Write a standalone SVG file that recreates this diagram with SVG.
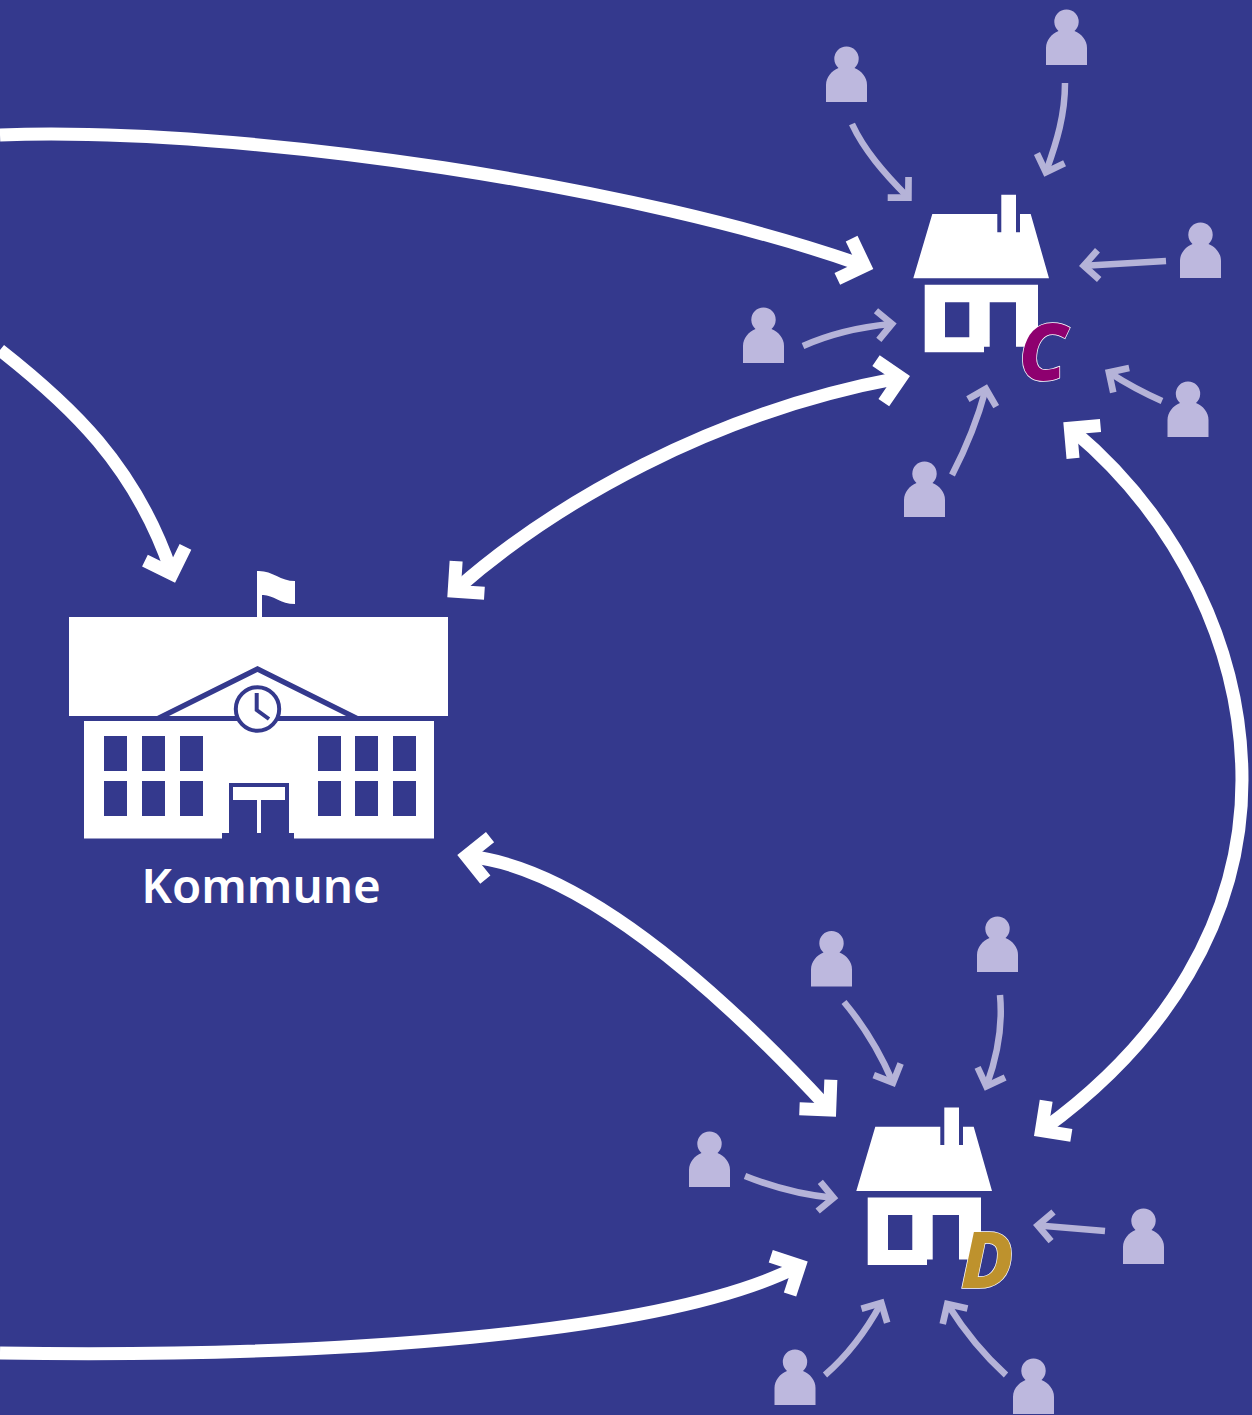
<svg xmlns="http://www.w3.org/2000/svg" xmlns:xlink="http://www.w3.org/1999/xlink" width="1252" height="1415" viewBox="0 0 1252 1415">
<style>
.w{fill:#fff}
.b{fill:#34398d}
.p{fill:#bdb8de}
.big{fill:none;stroke:#fff;stroke-width:13;marker-end:url(#hb)}
.dbl{marker-start:url(#hbs)}
.thin{fill:none;stroke:#b5b3d8;stroke-width:6.500;marker-end:url(#ht)}
.let{font-family:"Noto Sans","Open Sans",sans-serif;font-weight:800;font-style:italic;font-size:78px;stroke:#fff;stroke-width:1.400px;paint-order:stroke}
</style>
<defs>
<marker id="hb" markerUnits="userSpaceOnUse" markerWidth="60" markerHeight="60" refX="30" refY="30" viewBox="0 0 60 60" orient="auto" overflow="visible"><path transform="translate(30 30)" d="M12,0 L-14,-26 L-23.200,-16.800 L-6.400,0 L-23.200,16.800 L-14,26 Z" fill="#fff"/></marker>
<marker id="hbs" markerUnits="userSpaceOnUse" markerWidth="60" markerHeight="60" refX="30" refY="30" viewBox="0 0 60 60" orient="auto" overflow="visible"><path transform="translate(30 30)" d="M-12,0 L14,-26 L23.200,-16.800 L6.400,0 L23.200,16.800 L14,26 Z" fill="#fff"/></marker>
<marker id="ht" markerUnits="userSpaceOnUse" markerWidth="40" markerHeight="40" refX="20" refY="20" viewBox="0 0 40 40" orient="auto" overflow="visible"><path transform="translate(20 20)" d="M6,0 L-11,-17 L-15.700,-12.300 L-3.500,0 L-15.700,12.300 L-11,17 Z" fill="#b5b3d8"/></marker>
<path id="person" class="p" d="M-20.500,0 V-17 C-20.500,-25 -15,-31 -8,-34 A12.200,12.200 0 1 1 8,-34 C15,-31 20.500,-25 20.500,-17 V0 Z"/>
<g id="house">
<path class="w" d="M932.300,214 H997.300 V232.300 H1001.300 V194.700 H1016 V232.300 H1020 V214 H1030.700 L1049,278.300 H913.300 Z"/>
<path class="w" fill-rule="evenodd" d="M924.700,284.700 H1038 V346.700 H1016 V302.300 H989.700 V346.700 H984 V352.300 H924.700 Z M945,302.300 V337.300 H969.300 V302.300 Z"/>
</g>
</defs>
<rect id="background" class="b" width="1252" height="1415"/>
<g id="connectors">
<path class="big" d="M0,135 C250,126 645,188 862,265"/>
<path class="big" d="M0,350 C70,405 135,465 171.200,571.300"/>
<path class="big dbl" d="M456.300,589.400 C553.800,503.600 711.400,412.800 898.200,378.200"/>
<path class="big dbl" d="M1072.500,430 C1180,520 1242,650 1242,780 C1242,920 1165,1041 1043.700,1129"/>
<path class="big dbl" d="M469.200,856.300 C578.500,868.400 712,983 827.800,1107.900"/>
<path class="big" d="M0,1353 C330,1358 663,1334.500 797,1267"/>
<path class="thin" d="M852,124 C864,150 884,173 907.500,196.800"/>
<path class="thin" d="M1065,83 C1065,115 1057,141 1046.300,171"/>
<path class="thin" d="M1166,261 L1085,265.700"/>
<path class="thin" d="M1162,401 C1144,393 1127,384 1110,373"/>
<path class="thin" d="M952,475 C966,448 978,418 985.500,390"/>
<path class="thin" d="M803,346 C830,334 860,327 890.700,324"/>
<path class="thin" d="M844,1002 C865,1027 881,1055 892.500,1081.500"/>
<path class="thin" d="M1000,995 C1003,1027 997,1057 986.800,1085"/>
<path class="thin" d="M1105,1231 L1039,1225.500"/>
<path class="thin" d="M1006,1375 C984,1355 965,1332 948,1305"/>
<path class="thin" d="M825,1375 C848,1355 866,1331 880.700,1304"/>
<path class="thin" d="M745,1176 C775,1188 803,1195 832.300,1197.700"/>
</g>
<g id="kommune">
<path class="w" d="M257,571 C272,570 280,581 295,581 V604 C280,604 272,594 262,595 V617 H257 Z"/>
<rect class="w" x="69" y="617" width="379" height="99"/>
<path class="b" d="M157,716 L257.500,666 L358,716 H346 L257.500,672 L169,716 Z"/>
<path class="w" fill-rule="evenodd" d="M84,721 H434 V838.500 H294 V833 H289 V783 H229 V833 H222 V838.500 H84 Z M104,736 V771 H127 V736 Z M142,736 V771 H165 V736 Z M180,736 V771 H203 V736 Z M104,781 V816 H127 V781 Z M142,781 V816 H165 V781 Z M180,781 V816 H203 V781 Z M318,736 V771 H341 V736 Z M355,736 V771 H378 V736 Z M393,736 V771 H416 V736 Z M318,781 V816 H341 V781 Z M355,781 V816 H378 V781 Z M393,781 V816 H416 V781 Z"/>
<rect class="w" x="233" y="787" width="52" height="13"/>
<rect class="w" x="257" y="797" width="4" height="36"/>
<circle cx="257.500" cy="709" r="21.700" fill="#fff" stroke="#34398d" stroke-width="4"/>
<path d="M256.700,693 V710 L269,719" fill="none" stroke="#34398d" stroke-width="4"/>
<text x="261" y="902.500" text-anchor="middle" font-family="'Noto Sans','Open Sans',sans-serif" font-weight="600" font-size="47.500" class="w">Kommune</text>
</g>
<g id="house-c">
<use href="#house"/>
<text x="1018.500" y="380" class="let" fill="#8e006f">C</text>
</g>
<g id="house-d">
<use href="#house" x="-57" y="912.700"/>
<text x="960.500" y="1288" class="let" fill="#be922d">D</text>
</g>
<g id="residents-c">
<use href="#person" x="846.500" y="102"/>
<use href="#person" x="1066.500" y="65"/>
<use href="#person" x="1200.500" y="278"/>
<use href="#person" x="1188" y="437"/>
<use href="#person" x="924.500" y="517"/>
<use href="#person" x="763.500" y="363"/>
</g>
<g id="residents-d">
<use href="#person" x="831.500" y="986.500"/>
<use href="#person" x="997.500" y="972"/>
<use href="#person" x="1143.500" y="1264"/>
<use href="#person" x="1033.500" y="1414"/>
<use href="#person" x="795" y="1405"/>
<use href="#person" x="709.500" y="1187"/>
</g>
</svg>
